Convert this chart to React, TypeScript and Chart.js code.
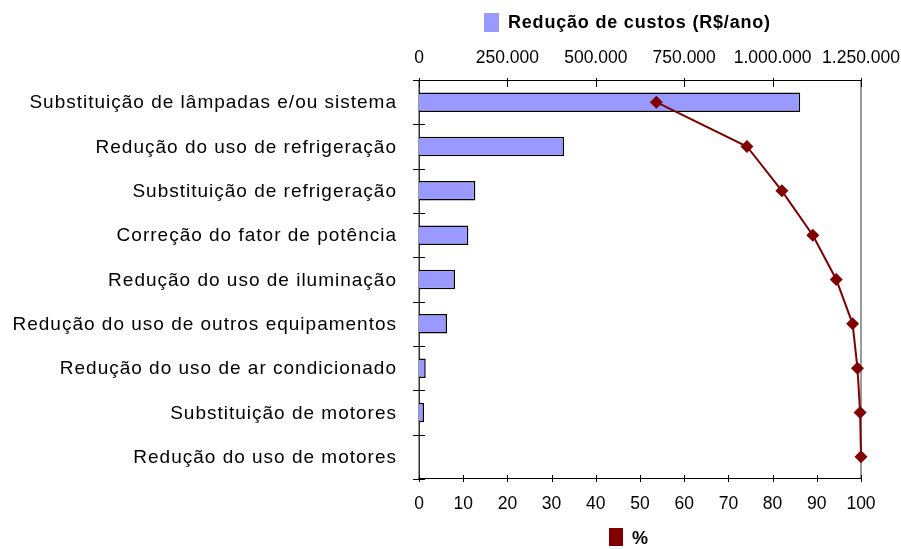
import React, { useEffect, useRef } from "react";
import { Chart, registerables } from "chart.js";

Chart.register(...registerables);

const categories: string[] = [
  "Substituição de lâmpadas e/ou sistema",
  "Redução do uso de refrigeração",
  "Substituição de refrigeração",
  "Correção do fator de potência",
  "Redução do uso de iluminação",
  "Redução do uso de outros equipamentos",
  "Redução do uso de ar condicionado",
  "Substituição de motores",
  "Redução do uso de motores",
];

const custos: number[] = [1078000, 410300, 159400, 139500, 101900, 79200, 19000, 14150, 0];
const percentual: number[] = [53.7, 74.2, 82.1, 89.1, 94.4, 98.1, 99.2, 99.8, 100];

const custosMax = 1250000;
const custosStep = 250000;
const pctMax = 100;
const pctStep = 10;

const barLabel = "Redução de custos (R$/ano)";
const lineLabel = "%";

const FONT = "'Liberation Sans', Arial, Helvetica, sans-serif";

const fmtBR = (v: number | string) =>
  String(Math.round(Number(v))).replace(/\B(?=(\d{3})+(?!\d))/g, ".");

const framePlugin = {
  id: "frame",
  beforeDatasetsDraw(chart: any) {
    const { ctx, chartArea } = chart;
    const { left, right, top, bottom } = chartArea;
    ctx.save();
    // right border (gray)
    ctx.strokeStyle = "#9a9a9a";
    ctx.lineWidth = 2;
    ctx.beginPath();
    ctx.moveTo(right, top);
    ctx.lineTo(right, bottom);
    ctx.stroke();
    // axes
    ctx.strokeStyle = "#000";
    ctx.lineWidth = 1;
    ctx.beginPath();
    ctx.moveTo(left - 0.5, Math.round(top) + 0.5);
    ctx.lineTo(right, Math.round(top) + 0.5);
    ctx.moveTo(left - 0.5, Math.round(bottom) - 0.5);
    ctx.lineTo(right, Math.round(bottom) - 0.5);
    ctx.stroke();
    ctx.strokeStyle = "#333";
    ctx.lineWidth = 1.5;
    ctx.beginPath();
    ctx.moveTo(Math.round(left) + 0.25, top);
    ctx.lineTo(Math.round(left) + 0.25, bottom);
    ctx.stroke();
    // ticks
    const x2 = chart.scales.x2;
    const x = chart.scales.x;
    const y = chart.scales.y;
    ctx.strokeStyle = "#000";
    ctx.lineWidth = 1;
    ctx.beginPath();
    x2.ticks.forEach((t: any) => {
      const px = Math.round(x2.getPixelForValue(t.value)) + 0.5;
      ctx.moveTo(px, top - 2);
      ctx.lineTo(px, top + 7);
    });
    x.ticks.forEach((t: any) => {
      const px = Math.round(x.getPixelForValue(t.value)) + 0.5;
      ctx.moveTo(px, bottom - 4);
      ctx.lineTo(px, bottom + 3);
    });
    for (let i = 0; i <= categories.length; i++) {
      const py = Math.round(y.getPixelForValue(i - 0.5)) + 0.5;
      ctx.moveTo(left - 6, py);
      ctx.lineTo(left + 6, py);
    }
    ctx.stroke();
    ctx.restore();
  },
  afterDraw(chart: any) {
    const { ctx, chartArea } = chart;
    const y = chart.scales.y;
    ctx.save();
    ctx.font = `19px ${FONT}`;
    try {
      (ctx as any).letterSpacing = "1px";
    } catch (e) {}
    ctx.fillStyle = "#000";
    ctx.textAlign = "right";
    ctx.textBaseline = "middle";
    categories.forEach((c, i) => {
      ctx.fillText(c, chartArea.left - 22, y.getPixelForValue(i) + 1);
    });
    try {
      (ctx as any).letterSpacing = "0px";
    } catch (e) {}
    ctx.restore();
  },
};

export default function App() {
  const canvasRef = useRef<HTMLCanvasElement | null>(null);

  useEffect(() => {
    document.body.style.margin = "0";
    const canvas = canvasRef.current;
    if (!canvas) return;
    Chart.defaults.font.family = FONT;
    Chart.defaults.color = "#000";
    const chart = new Chart(canvas, {
      type: "bar",
      data: {
        labels: categories,
        datasets: [
          {
            type: "line",
            label: lineLabel,
            data: percentual,
            indexAxis: "y",
            xAxisID: "x",
            yAxisID: "y",
            borderColor: "#800000",
            backgroundColor: "#800000",
            borderWidth: 2,
            pointStyle: "rectRot",
            pointRadius: 6.5,
            pointBorderWidth: 0,
            pointBackgroundColor: "#800000",
            tension: 0,
            clip: false,
            order: 0,
          } as any,
          {
            type: "bar",
            label: barLabel,
            data: custos,
            xAxisID: "x2",
            yAxisID: "y",
            backgroundColor: "#9999FF",
            borderColor: "#000",
            borderWidth: 1.5,
            barPercentage: 0.44,
            categoryPercentage: 1,
            order: 1,
          } as any,
        ],
      },
      options: {
        indexAxis: "y",
        responsive: false,
        animation: false,
        layout: { padding: { left: 0, right: 40, top: 0, bottom: 0 } },
        plugins: {
          legend: { display: false },
          tooltip: { enabled: false },
        },
        scales: {
          y: {
            type: "category",
            position: "left",
            offset: true,
            grid: { display: false },
            border: { display: false },
            ticks: { display: false },
            afterFit: (s: any) => {
              s.width = 419;
            },
          },
          x: {
            type: "linear",
            position: "bottom",
            min: 0,
            max: pctMax,
            grid: { display: false },
            border: { display: false },
            ticks: {
              stepSize: pctStep,
              padding: 7,
              color: "#000",
              font: { size: 17.5 },
              maxRotation: 0,
              autoSkip: false,
            },
            afterFit: (s: any) => {
              s.height = 70;
              s.paddingLeft = 0;
              s.paddingRight = 0;
            },
          },
          x2: {
            type: "linear",
            position: "top",
            min: 0,
            max: custosMax,
            grid: { display: false },
            border: { display: false },
            ticks: {
              stepSize: custosStep,
              padding: 3,
              color: "#000",
              font: { size: 17.5 },
              maxRotation: 0,
              autoSkip: false,
              callback: (v: any) => fmtBR(v),
            },
            afterFit: (s: any) => {
              s.height = 80;
              s.paddingLeft = 0;
              s.paddingRight = 0;
            },
          },
        },
      } as any,
      plugins: [framePlugin],
    });
    return () => chart.destroy();
  }, []);

  const legendText: React.CSSProperties = {
    position: "absolute",
    fontFamily: FONT,
    fontWeight: "bold",
    fontSize: 18,
    letterSpacing: "0.8px",
    lineHeight: "20px",
    color: "#000",
    whiteSpace: "nowrap",
  };

  return (
    <div style={{ position: "relative", width: 901, height: 549, background: "#fff", overflow: "hidden" }}>
      <canvas ref={canvasRef} width={901} height={549} style={{ position: "absolute", left: 0, top: 0, width: 901, height: 549 }} />
      <div style={{ position: "absolute", left: 484, top: 13, width: 15, height: 19, background: "#9999FF" }} />
      <div style={{ ...legendText, left: 508, top: 12 }}>{barLabel}</div>
      <div style={{ position: "absolute", left: 609, top: 528, width: 14, height: 18, background: "#800000" }} />
      <div style={{ ...legendText, left: 632, top: 528 }}>{lineLabel}</div>
    </div>
  );
}
